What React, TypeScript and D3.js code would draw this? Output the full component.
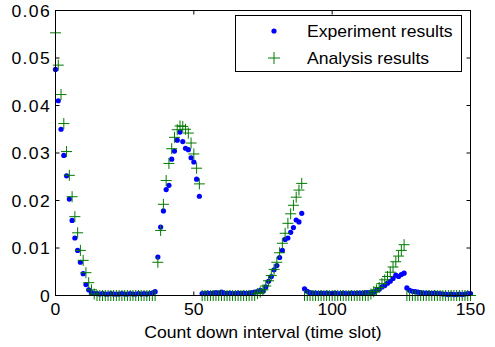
import React from 'react';
import * as d3 from 'd3';

const xTicks = [0, 50, 100, 150];
const xTickLabels = ['0', '50', '100', '150'];
const yTicks = [0, 0.01, 0.02, 0.03, 0.04, 0.05, 0.06];
const yTickLabels = ['0', '0.01', '0.02', '0.03', '0.04', '0.05', '0.06'];
const seriesNames = ['Experiment results', 'Analysis results'];
const xLabel = 'Count down interval (time slot)';

const experiment = [
  0.0476, 0.0410, 0.0350, 0.0295, 0.0252, 0.0203, 0.0158, 0.0121, 0.0095, 0.0070,
  0.0046, 0.0023, 0.0012, 0.0006, 0.0004, 0.0004, 0.0003, 0.0004, 0.0003, 0.0003,
  0.0004, 0.0003, 0.0003, 0.0003, 0.0004, 0.0003, 0.0003, 0.0004, 0.0003, 0.0003,
  0.0004, 0.0003, 0.0004, 0.0003, 0.0004, 0.0005, 0.0008, 0.0081, 0.0144, 0.0178,
  0.0223, 0.0232, 0.0287, 0.0304, 0.0327, 0.0344, 0.0324, 0.0310, 0.0307, 0.0290,
  0.0281, 0.0245, 0.0209, 0.0004, 0.0004, 0.0005, 0.0004, 0.0005, 0.0006, 0.0005,
  0.0007, 0.0005, 0.0004, 0.0005, 0.0004, 0.0004, 0.0005, 0.0004, 0.0005, 0.0004,
  0.0005, 0.0006, 0.0007, 0.0008, 0.0011, 0.0009, 0.0018, 0.0030, 0.0040, 0.0054,
  0.0063, 0.0080, 0.0095, 0.0118, 0.0121, 0.0133, 0.0143, 0.0159, 0.0155, 0.0173,
  0.0014, 0.0009, 0.0006, 0.0005, 0.0005, 0.0004, 0.0005, 0.0004, 0.0005, 0.0004,
  0.0004, 0.0005, 0.0004, 0.0004, 0.0005, 0.0004, 0.0004, 0.0005, 0.0004, 0.0005,
  0.0005, 0.0005, 0.0006, 0.0006, 0.0006, 0.0007, 0.0011, 0.0013, 0.0018, 0.0021,
  0.0026, 0.0030, 0.0036, 0.0043, 0.0040, 0.0044, 0.0047, 0.0016, 0.0011, 0.0009,
  0.0008, 0.0007, 0.0006, 0.0005, 0.0005, 0.0005, 0.0004, 0.0005, 0.0004, 0.0004,
  0.0003, 0.0003, 0.0002, 0.0003, 0.0002, 0.0002, 0.0003, 0.0002, 0.0003, 0.0004, 0.0004,
];

const analysis = [
  0.0553, 0.0485, 0.0423, 0.0362, 0.0303, 0.0253, 0.0208, 0.0166, 0.0132, 0.0095,
  0.0074, 0.0048, 0.0027, 0.0012, 0.0003, 0, 0, 0, 0, 0,
  0, 0, 0, 0, 0, 0, 0, 0, 0, 0,
  0, 0, 0, 0, 0, 0, 0, 0.0070, 0.0137, 0.0192,
  0.0242, 0.0278, 0.0309, 0.0333, 0.0349, 0.0357, 0.0356, 0.0350, 0.0342, 0.0321,
  0.0298, 0.0268, 0.0235, 0, 0, 0, 0, 0, 0, 0,
  0, 0, 0, 0, 0, 0, 0, 0, 0, 0,
  0, 0, 0, 0.0004, 0.0007, 0.0012, 0.0020, 0.0031, 0.0042, 0.0055,
  0.0070, 0.0090, 0.0110, 0.0131, 0.0152, 0.0172, 0.0190, 0.0207, 0.0222, 0.0236,
  0, 0, 0, 0, 0, 0, 0, 0, 0, 0,
  0, 0, 0, 0, 0, 0, 0, 0, 0, 0,
  0, 0, 0, 0, 0.0003, 0.0008, 0.0012, 0.0017, 0.0025, 0.0033,
  0.0040, 0.0049, 0.0060, 0.0071, 0.0083, 0.0095, 0.0107, 0, 0, 0,
  0, 0, 0, 0, 0, 0, 0, 0, 0, 0,
  0, 0, 0, 0, 0, 0, 0, 0, 0, 0, 0,
];

const FONT = "'Liberation Sans', Arial, Helvetica, sans-serif";
const SX = 1.1;

function SText(props: {
  x: number;
  y: number;
  anchor?: string;
  spacing?: number;
  children: React.ReactNode;
}) {
  const { x, y, anchor = 'start', spacing = 0, children } = props;
  return (
    <g transform={`translate(${x},${y}) scale(${SX},1)`}>
      <text
        x={0}
        y={0}
        textAnchor={anchor}
        fontFamily={FONT}
        fontSize={16}
        letterSpacing={spacing}
        fill="#000"
      >
        {children}
      </text>
    </g>
  );
}

const plusPath = (h: number) => `M${-h},0H${h}M0,${-h}V${h}`;

export default function App() {
  const W = 495;
  const H = 347;
  const x = d3.scaleLinear().domain([0, 150]).range([55.5, 470.5]);
  const y = d3.scaleLinear().domain([0, 0.06]).range([295.5, 10.5]);
  const [x0, x1] = x.range();
  const [y0, y1] = y.range();
  const tl = 4;
  const green = '#007a00';
  const blue = '#0000ff';

  return (
    <svg
      width={W}
      height={H}
      style={{ position: 'absolute', left: 0, top: 0, background: '#fff' }}
    >
      <rect x={0} y={0} width={W} height={H} fill="#fff" />
      <g>
        {experiment.map((v, i) => (
          <circle key={'e' + i} cx={x(i)} cy={y(v)} r={2.6} fill={blue} />
        ))}
      </g>
      <g>
        {analysis.map((v, i) => (
          <path
            key={'a' + i}
            d={plusPath(5.5)}
            transform={`translate(${x(i)},${y(v)})`}
            stroke={green}
            strokeWidth={1}
            fill="none"
          />
        ))}
      </g>
      <rect x={x0} y={y1} width={x1 - x0} height={y0 - y1} fill="none" stroke="#000" strokeWidth={1} />
      {xTicks.map((t) => (
        <g key={'xt' + t}>
          <line x1={x(t)} x2={x(t)} y1={y0} y2={y0 - tl} stroke="#000" />
          <line x1={x(t)} x2={x(t)} y1={y1} y2={y1 + tl} stroke="#000" />
        </g>
      ))}
      {yTicks.map((t) => (
        <g key={'yt' + t}>
          <line x1={x0} x2={x0 + tl} y1={y(t)} y2={y(t)} stroke="#000" />
          <line x1={x1} x2={x1 - tl} y1={y(t)} y2={y(t)} stroke="#000" />
        </g>
      ))}
      {xTicks.map((t, i) => (
        <SText key={'xl' + t} x={x(t)} y={315} anchor="middle">
          {xTickLabels[i]}
        </SText>
      ))}
      {yTicks.map((t, i) => (
        <SText key={'yl' + t} x={51} y={y(t) + 6} anchor="end" spacing={1.2}>
          {yTickLabels[i]}
        </SText>
      ))}
      <SText x={(x0 + x1) / 2} y={338} anchor="middle">
        {xLabel}
      </SText>
      <g>
        <rect x={235.5} y={15.5} width={226} height={56} fill="#fff" stroke="#000" strokeWidth={1} />
        <circle cx={274} cy={31} r={2.6} fill={blue} />
        <path d={plusPath(6)} transform="translate(274,58)" stroke={green} strokeWidth={1} fill="none" />
        <SText x={307} y={37}>
          {seriesNames[0]}
        </SText>
        <SText x={307} y={63.5}>
          {seriesNames[1]}
        </SText>
      </g>
    </svg>
  );
}
